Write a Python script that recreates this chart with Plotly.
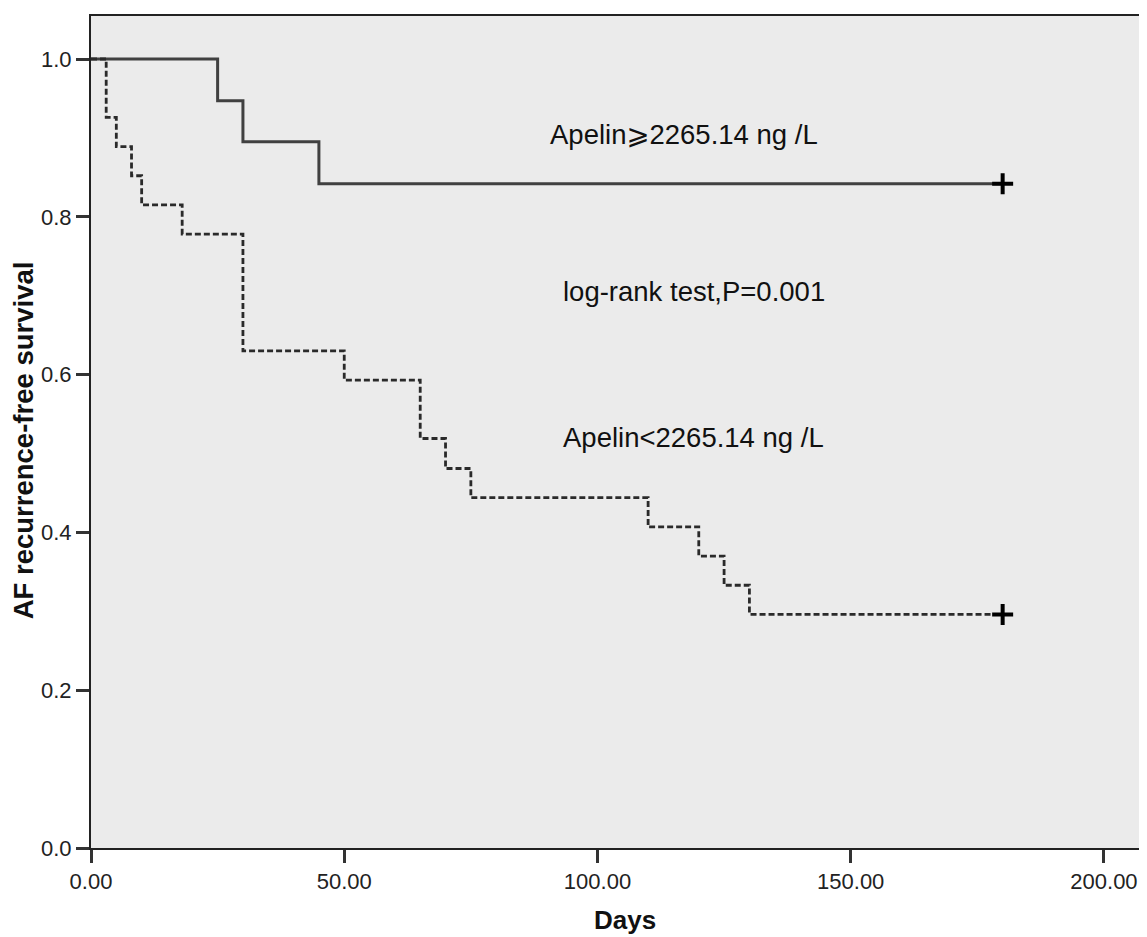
import plotly.graph_objects as go

# Kaplan-Meier step data
high_days = [0, 25, 30, 45, 180]
high_surv = [1.0, 0.947, 0.895, 0.842, 0.842]
low_days = [0, 3, 5, 8, 10, 18, 30, 50, 65, 70, 75, 110, 120, 125, 130, 180]
low_surv = [1.0, 0.926, 0.889, 0.852, 0.815, 0.778, 0.630, 0.593, 0.519,
            0.481, 0.444, 0.407, 0.370, 0.333, 0.296, 0.296]
censor_days = [180, 180]
censor_surv = [0.842, 0.296]

x_ticks = [0, 50, 100, 150, 200]
y_ticks = [0.0, 0.2, 0.4, 0.6, 0.8, 1.0]

labels = ["Apelin\u2a7e2265.14 ng /L", "log-rank test,P=0.001", "Apelin<2265.14 ng /L"]
label_x = [117, 119, 119]
label_y = [0.904, 0.705, 0.520]

fig = go.Figure()
fig.add_trace(go.Scatter(x=high_days, y=high_surv, mode="lines", line_shape="hv",
                         line=dict(color="#404040", width=3), showlegend=False))
fig.add_trace(go.Scatter(x=low_days, y=low_surv, mode="lines", line_shape="hv",
                         line=dict(color="#2a2a2a", width=2.8, dash="6px,3px"),
                         showlegend=False))
fig.add_trace(go.Scatter(x=censor_days, y=censor_surv, mode="markers",
                         marker=dict(symbol="cross-thin", size=15,
                                     line=dict(color="black", width=4)),
                         showlegend=False))

for t, xx, yy in zip(labels, label_x, label_y):
    fig.add_annotation(x=xx, y=yy, text=t, showarrow=False, xanchor="center",
                       yanchor="middle",
                       font=dict(family="Liberation Sans, Arial, DejaVu Sans", size=27.5,
                                 color="#111111"))

fig.add_annotation(xref="paper", yref="paper", x=0.5057, y=0, yshift=-72,
                   text="<b>Days</b>", showarrow=False, yanchor="middle",
                   font=dict(family="Liberation Sans, Arial", size=26, color="#111111"))
fig.add_annotation(xref="paper", yref="paper", x=0, xshift=-68, y=0.49,
                   text="<b>AF recurrence-free survival</b>", showarrow=False,
                   textangle=-90, xanchor="center", yanchor="middle",
                   font=dict(family="Liberation Sans, Arial", size=27.5, color="#111111"))

fig.update_layout(
    width=1139, height=929,
    margin=dict(l=83, r=0, t=8, b=89),
    plot_bgcolor="#ebebeb", paper_bgcolor="white",
    xaxis=dict(range=[0, 208.5], tickvals=x_ticks,
               ticktext=[f"{v:.2f}" for v in x_ticks],
               showgrid=False, zeroline=False, showline=True, linecolor="#222222",
               linewidth=2, mirror=True, ticks="outside", ticklen=13, tickwidth=2.5,
               tickcolor="#333333",
               tickfont=dict(family="Liberation Sans, Arial", size=22, color="#222222")),
    yaxis=dict(range=[0, 1.0545], tickvals=y_ticks,
               ticktext=[f"{v:.1f}" for v in y_ticks],
               showgrid=False, zeroline=False, showline=True, linecolor="#222222",
               linewidth=2, ticks="outside", ticklen=13, tickwidth=2.5,
               tickcolor="#333333",
               tickfont=dict(family="Liberation Sans, Arial", size=22, color="#222222")),
)

fig.write_html("out.html")
